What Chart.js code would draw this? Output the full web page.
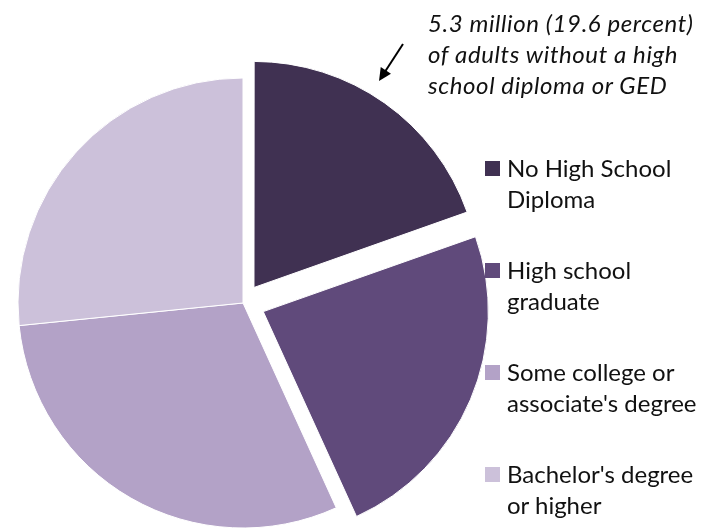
<!DOCTYPE html>
<html>
<head>
<meta charset="utf-8">
<script src="https://cdn.jsdelivr.net/npm/chart.js@4.4.1/dist/chart.umd.min.js"></script>
<style>
    html, body { margin: 0; padding: 0; background: #fff; }
    #wrap { position: relative; width: 718px; height: 529px; overflow: hidden; font-family: Lato, "Open Sans", sans-serif; color: #111; }
    #pie { position: absolute; left: 0; top: 0; }
    #note { position: absolute; left: 428px; top: 7px; font-style: italic; font-size: 24px; line-height: 31px; letter-spacing: 0.6px; white-space: nowrap; }
    #legend { position: absolute; left: 485px; top: 152px; }
    .item { position: relative; height: 102px; font-size: 24px; line-height: 31px; padding-left: 22px; white-space: nowrap; }
    .swatch { position: absolute; left: 0; top: 9px; width: 15px; height: 15px; }
</style>
</head>
<body>
<div id="wrap">
    <canvas id="pie" width="718" height="529"></canvas>
    <div id="note"></div>
    <div id="legend"></div>
</div>
<script>
// Data
const labels = [
    ['No High School', 'Diploma'],
    ['High school', 'graduate'],
    ['Some college or', "associate's degree"],
    ["Bachelor's degree", 'or higher']
];
const percents = [19.6, 23.6, 30.2, 26.6];
const colors = ['#403152', '#604A7B', '#B3A2C7', '#CCC1DA'];
const explode = [76, 88, 0, 0];
const noteLines = ['5.3 million (19.6 percent)', 'of adults without a high', 'school diploma or GED'];

// Annotation text
document.getElementById('note').innerHTML = noteLines.join('<br>');

// Legend
const legend = document.getElementById('legend');
labels.forEach((lines, i) => {
    const item = document.createElement('div');
    item.className = 'item';
    item.innerHTML = `<span class="swatch" style="background:${colors[i]}"></span>${lines.join('<br>')}`;
    legend.appendChild(item);
});

// Arrow pointing at the first slice
const arrowPlugin = {
    id: 'arrow',
    afterDraw(chart) {
        const ctx = chart.ctx;
        const x1 = 403, y1 = 44, x2 = 379, y2 = 81;
        const ang = Math.atan2(y2 - y1, x2 - x1);
        ctx.save();
        ctx.strokeStyle = '#000';
        ctx.fillStyle = '#000';
        ctx.lineWidth = 2;
        ctx.beginPath();
        ctx.moveTo(x1, y1);
        ctx.lineTo(x2 - Math.cos(ang) * 8, y2 - Math.sin(ang) * 8);
        ctx.stroke();
        ctx.beginPath();
        ctx.moveTo(x2, y2);
        ctx.lineTo(x2 - Math.cos(ang - 0.45) * 14, y2 - Math.sin(ang - 0.45) * 14);
        ctx.lineTo(x2 - Math.cos(ang + 0.45) * 14, y2 - Math.sin(ang + 0.45) * 14);
        ctx.closePath();
        ctx.fill();
        ctx.restore();
    }
};

new Chart(document.getElementById('pie').getContext('2d'), {
    type: 'pie',
    data: {
        labels: labels.map(l => l.join(' ')),
        datasets: [{
            data: percents,
            backgroundColor: colors,
            borderColor: '#fff',
            borderWidth: 1,
            offset: explode
        }]
    },
    options: {
        responsive: false,
        animation: false,
        radius: 225,
        layout: { padding: { left: 0, right: 232, top: 77, bottom: 0 } },
        plugins: {
            legend: { display: false },
            tooltip: { enabled: false }
        }
    },
    plugins: [arrowPlugin]
});
</script>
</body>
</html>
